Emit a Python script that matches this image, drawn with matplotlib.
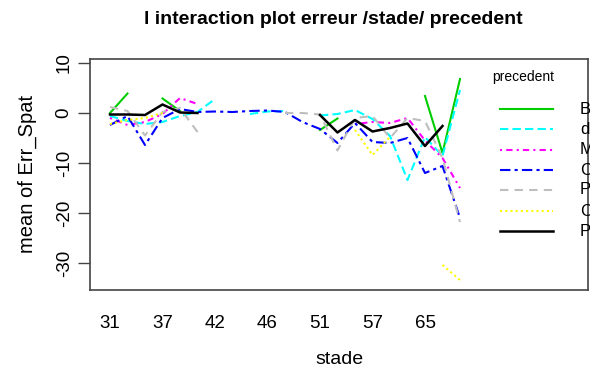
import numpy as np
import matplotlib
matplotlib.use('Agg')
import matplotlib.pyplot as plt

plt.rcParams['font.family'] = ['Liberation Sans', 'DejaVu Sans']

nan = np.nan
n_levels = 21
stade_ticks = [1, 4, 7, 10, 13, 16, 19]
stade_labels = ['31', '37', '42', '46', '51', '57', '65']

# mean Err_Spat per stade level, one list per precedent group (nan = empty cell)
err_B = [0.0, 3.9, nan, 2.9, 0.4, nan, nan, nan, nan, nan, nan, nan,
         -3.4, -1.1, nan, nan, nan, nan, 3.4, -8.0, 6.8]
err_d = [-0.6, -1.6, -2.2, -1.8, -0.6, 0.2, 2.8, nan, -0.2, 0.3, 0.4, nan,
         -0.5, -0.2, 0.6, -1.2, -4.6, -13.4, -4.8, -8.6, 4.6]
err_M = [-1.0, -2.4, -1.8, -0.2, 3.0, 1.8, nan, nan, nan, nan, nan, nan,
         nan, nan, -2.2, -1.8, -2.0, -1.0, -5.5, -9.0, -15.0]
err_C1 = [-2.4, -0.6, -6.4, -1.0, 0.8, 0.2, 0.3, 0.2, 0.4, 0.5, 0.2, -1.8,
          -3.2, -6.0, -2.0, -5.8, -6.0, -5.0, -12.0, -10.6, -21.0]
err_P1 = [1.2, 0.4, -4.5, 0.2, 1.0, -3.8, nan, nan, nan, nan, 0.0, 0.0,
          -0.3, -7.5, -1.0, -0.6, -5.0, -1.0, -1.6, -9.0, -21.8]
err_C2 = [-2.2, -1.4, -1.0, 0.0, nan, nan, nan, nan, nan, nan, nan, nan,
          nan, nan, -3.4, -8.4, -4.8, nan, nan, -30.4, -33.4]
err_P2 = [-0.3, -0.3, -0.4, 1.7, 0.1, 0.0, nan, nan, nan, nan, nan, nan,
          -0.4, -3.9, -1.4, -3.7, -3.0, -2.1, -6.6, -2.6, nan]

groups = ['B', 'd', 'M', 'C', 'P', 'C', 'P']
series = [err_B, err_d, err_M, err_C1, err_P1, err_C2, err_P2]
colors = ['#00CD00', '#00FFFF', '#FF00FF', '#0000FF', '#BEBEBE', '#FFFF00', 'black']
styles = ['-', (0, (4, 2)), (0, (1, 2, 3, 2)), (0, (5, 2, 1.5, 2)),
          (0, (4, 3)), (0, (1, 1.5)), '-']
widths = [1.5, 1.5, 1.5, 1.5, 1.5, 1.5, 1.8]

fig = plt.figure(figsize=(5.9, 3.76), dpi=100)
ax = fig.add_axes([90 / 590, 1 - 290 / 376, 498 / 590, 231 / 376])

lv = np.arange(1, n_levels + 1)
for vals, c, ls, lw in zip(series, colors, styles, widths):
    ax.plot(lv, vals, color=c, linestyle=ls, linewidth=lw)

ax.set_xlim(1 - 20 / 17.5, 1 + 478 / 17.5)
ax.set_ylim(-35.4, 10.8)

ax.set_xticks(stade_ticks)
ax.set_xticklabels(stade_labels, fontsize=13.5)
ax.tick_params(axis='x', length=0, pad=18)
ax.set_yticks([10, 0, -10, -20, -30])
ax.set_yticklabels(['10', '0', '-10', '-20', '-30'], fontsize=13.5,
                   rotation=90, va='center')
ax.tick_params(axis='y', length=8.5, width=1, color='#444444', pad=4)
for s in ax.spines.values():
    s.set_color('#444444')
    s.set_linewidth(1.2)

# legend drawn by hand inside the right margin of the box
ax.text((523 - 90) / 498, (290 - 77) / 231, 'precedent', transform=ax.transAxes,
        ha='center', va='center', fontsize=10)
leg_y = [109, 129, 150, 170, 190, 211, 231]
for g, c, ls, lw, py in zip(groups, colors, styles, widths, leg_y):
    fy = (290 - py) / 231
    ax.plot([(500 - 90) / 498, (553 - 90) / 498], [fy, fy], transform=ax.transAxes,
            color=c, linestyle=ls, linewidth=lw, clip_on=False)
    ax.text((580 - 90) / 498, fy, g, transform=ax.transAxes, ha='left',
            va='center', fontsize=12)

fig.text(333 / 590, 1 - 19 / 376, 'l interaction plot erreur /stade/ precedent',
         ha='center', va='center', fontsize=14, fontweight='bold')
fig.text(27 / 590, 1 - 174 / 376, 'mean of Err_Spat', rotation=90,
         ha='center', va='center', fontsize=14.5)
fig.text(339 / 590, 1 - 360 / 376, 'stade', ha='center', va='center', fontsize=14)

fig.savefig('out.png', dpi=100)
